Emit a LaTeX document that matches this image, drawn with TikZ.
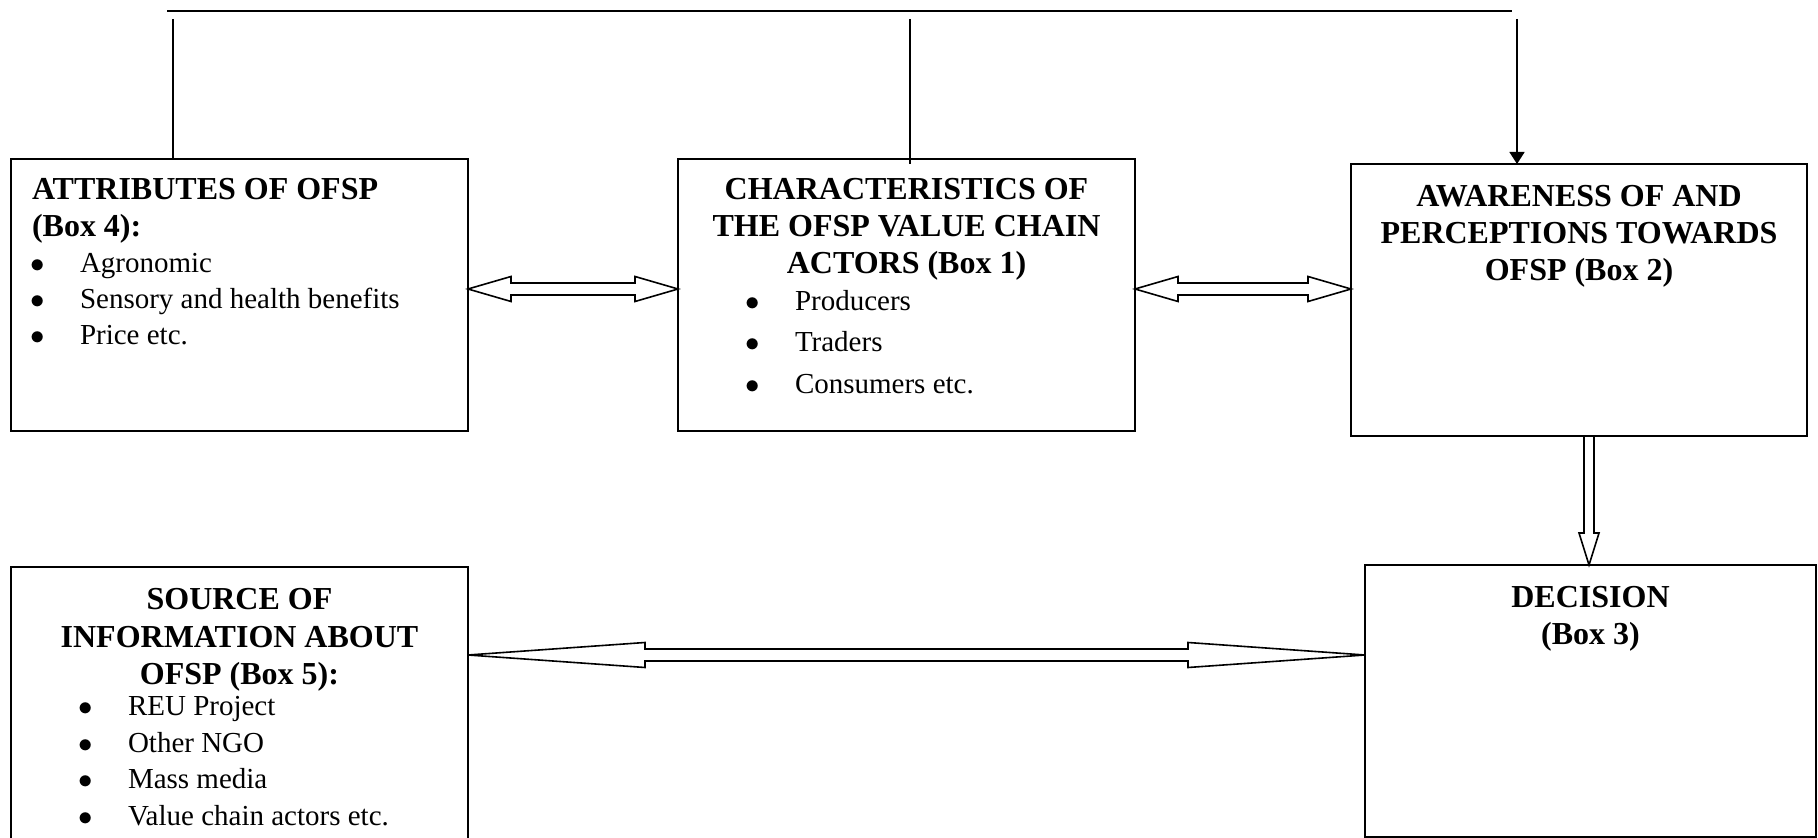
\documentclass[tikz,border=0pt]{standalone}
\usepackage{fontspec}
\setmainfont{Liberation Serif}
\usetikzlibrary{positioning,calc,arrows.meta}

\tikzset{
  box/.style={draw, line width=0.8pt, inner sep=0pt, outer sep=0pt},
  link/.style={line width=0.8pt},
  fatarrow/.style={draw, line width=0.8pt, fill=white, line join=miter},
}

\newcommand{\headfont}{\bfseries\fontsize{16}{18.5}\selectfont}
\newcommand{\itemfont}{\fontsize{14.5}{18}\selectfont}
\newcommand{\bulitem}[3]{\noindent\makebox[#2][l]{\hspace*{#1}\makebox[0pt]{$\bullet$}}#3\par}
\newcommand{\panel}[3]{\begin{minipage}[t][#2][t]{#1}\parindent=0pt\parskip=0pt #3\end{minipage}}
% hollow two-headed block arrow: left tip, right tip, head length
\newcommand{\dblarrow}[3]{%
  \draw[fatarrow] (#1) -- ++(#3,6.25pt) -- ++(0,-3.25pt) -- ($(#2)+(-#3,3pt)$) -- ++(0,3.25pt)
    -- (#2) -- ++(-#3,-6.25pt) -- ++(0,3.25pt) -- ($(#1)+(#3,-3pt)$) -- ++(0,-3.25pt) -- cycle;}

\begin{document}
\begin{tikzpicture}[x=0.5pt, y=-0.5pt]
\useasboundingbox (0,0) rectangle (1818,838);

\node[box, anchor=north west] (attr) at (11,159) {\panel{228.5pt}{136pt}{%
  {\headfont\leftskip=10.5pt\rule{0pt}{20.5pt}ATTRIBUTES OF OFSP\\(Box 4):\par}
  {\itemfont
   \bulitem{13.5pt}{34.5pt}{Agronomic}
   \bulitem{13.5pt}{34.5pt}{Sensory and health benefits}
   \bulitem{13.5pt}{34.5pt}{Price etc.}}}};
\node[box, right=105pt of attr] (chars) {\panel{228.5pt}{136pt}{%
  {\headfont\centering\rule{0pt}{20.5pt}CHARACTERISTICS OF\\THE OFSP VALUE CHAIN\\ACTORS (Box 1)\par}
  \vspace{-2.5pt}
  {\fontsize{14.5}{20.75}\selectfont
   \bulitem{37.5pt}{58.5pt}{Producers}
   \bulitem{37.5pt}{58.5pt}{Traders}
   \bulitem{37.5pt}{58.5pt}{Consumers etc.}}}};
\node[box, right=108pt of chars, yshift=-2.5pt] (aware) {\panel{228pt}{136pt}{%
  {\headfont\centering\rule{0pt}{21.5pt}AWARENESS OF AND\\PERCEPTIONS TOWARDS\\OFSP (Box 2)\par}}};
\node[box, below=68pt of attr] (source) {\panel{228.5pt}{145pt}{%
  {\headfont\fontsize{16}{18.5}\selectfont\centering\rule{0pt}{21.5pt}SOURCE OF\\INFORMATION ABOUT\\OFSP (Box 5):\par}
  \vspace{-2.5pt}
  {\fontsize{14.5}{18.3}\selectfont
   \bulitem{37.5pt}{58.5pt}{REU Project}
   \bulitem{37.5pt}{58.5pt}{Other NGO}
   \bulitem{37.5pt}{58.5pt}{Mass media}
   \bulitem{37.5pt}{58.5pt}{Value chain actors etc.}}}};
\node[box, anchor=north west] (decide) at (1365,565) {\panel{225.5pt}{136pt}{%
  {\headfont\centering\rule{0pt}{21pt}DECISION\\(Box 3)\par}}};

% feedback line along the top
\coordinate (busl) at (167,11);
\coordinate (busr) at (1512,11);
\draw[link] (busl) -- (busr);
\coordinate (fa) at (173,19);
\coordinate (fb) at (910,19);
\coordinate (fc) at (1517,19);
\draw[link] (fa) -- (fa |- attr.north);
\draw[link] (fb) -- ($(fb |- chars.north)+(0,-2.5pt)$);
\draw[link, -{Triangle[length=6pt, width=7.5pt]}] (fc) -- (fc |- aware.north);

\coordinate (ab) at ($(attr.east)+(0,3pt)$);
\dblarrow{ab}{chars.west |- ab}{21.5pt}
\coordinate (bc) at ($(chars.east)+(0,3pt)$);
\dblarrow{bc}{aware.west |- bc}{21.5pt}
\coordinate (sd) at ($(decide.west)+(0,23pt)$);
\dblarrow{source.east |- sd}{sd}{88.5pt}

\coordinate (ad) at ($(aware.south)+(5pt,0)$);
\draw[fatarrow, fill=none] ($(ad)+(-2.5pt,0)$) -- ($(ad |- decide.north)+(-2.5pt,16pt)$) -- ++(-2.5pt,0)
  -- (ad |- decide.north) -- ++(5pt,16pt) -- ++(-2.5pt,0) -- ($(ad)+(2.5pt,0)$);

\end{tikzpicture}
\end{document}
